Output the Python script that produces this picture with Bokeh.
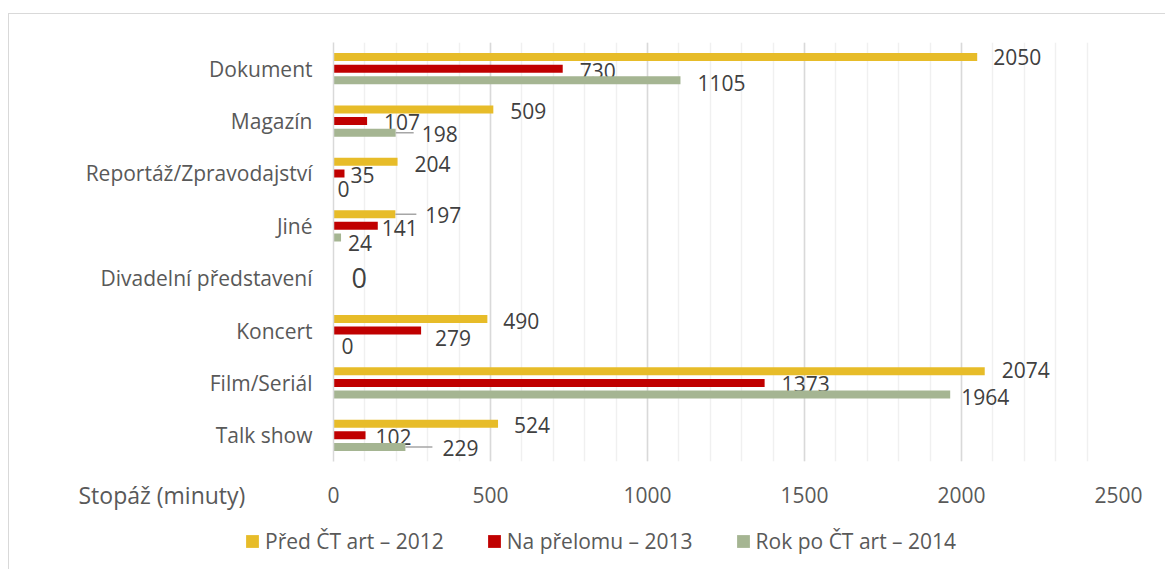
from bokeh.plotting import figure
from bokeh.layouts import column
from bokeh.models import (ColumnDataSource, FactorRange, Range1d, SingleIntervalTicker,
                          FixedTicker, Legend, LegendItem, Label)
from bokeh.transform import dodge
from bokeh.core.properties import value
from bokeh.embed import file_html
from bokeh.resources import INLINE

# ---------------- data ----------------
categories = ["Dokument", "Magazín", "Reportáž/Zpravodajství", "Jiné",
              "Divadelní představení", "Koncert", "Film/Seriál", "Talk show"]
series_names = ["Před ČT art – 2012", "Na přelomu – 2013", "Rok po ČT art – 2014"]
v2012 = [2050, 509, 204, 197, 0, 490, 2074, 524]
v2013 = [730, 107, 35, 141, 0, 279, 1373, 102]
v2014 = [1105, 198, 0, 24, 0, 0, 1964, 229]
# data-label texts ("" = no label shown)
lab2012 = ["2050", "509", "204", "197", "", "490", "2074", "524"]
lab2013 = ["730", "107", "35", "141", "0", "279", "1373", "102"]
lab2014 = ["1105", "198", "0", "24", "", "0", "1964", "229"]
x_ticks = [0, 500, 1000, 1500, 2000, 2500]
x_axis_title = "Stopáž (minuty)"

# ---------------- styling (label placement in pixels) ----------------
colors = ["#E7BC29", "#C00000", "#A5B592"]
dodges = [0.223, 0.0, -0.223]
dx = [[16, 17, 17, 30, 0, 16, 17, 16],
      [17, 17, 6, 4, 18, 14, 17, 10],
      [17, 26, 4, 7, 0, 8, 11, 37]]
dy = [[0, 2, 2, 1, 0, 2, -1, 1.5],
      [2, 1, 2, 2, 0, 7, 1, 1.5],
      [2.5, 1.5, 4, 6, 0, 4, 2, 1]]
fsz = [["21px"] * 8,
       ["21px", "21px", "21px", "21px", "27px", "21px", "21px", "21px"],
       ["21px"] * 8]
# leader lines: (series index, category index, length px)
leaders = [(0, 3, 21), (2, 1, 18), (2, 7, 27)]

FONT = "Open Sans"
W = 1156

p = figure(y_range=FactorRange(factors=categories[::-1], range_padding=0),
           x_range=Range1d(x_ticks[0], x_ticks[-1]),
           frame_width=785, frame_height=419,
           min_border_left=324, min_border_right=W - 324 - 785,
           min_border_top=28, min_border_bottom=55,
           output_backend="svg", toolbar_location=None)
p.outline_line_color = None
p.background_fill_color = "white"
p.border_fill_color = "white"

vals = [v2012, v2013, v2014]
labs = [lab2012, lab2013, lab2014]
for i in range(3):
    src = ColumnDataSource(dict(cat=categories, val=vals[i], lab=labs[i],
                                dx=dx[i], dy=dy[i], fs=fsz[i]))
    p.hbar(y=dodge("cat", dodges[i], range=p.y_range), right="val", left=0,
           height=0.153, fill_color=colors[i], line_color=None, source=src)
    p.text(x="val", y=dodge("cat", dodges[i], range=p.y_range), text="lab",
           x_offset="dx", y_offset="dy", text_font_size="fs",
           text_font=value(FONT), text_color="#404040",
           text_align="left", text_baseline="middle", source=src)

# leader lines
for i in range(3):
    sel = [l for l in leaders if l[0] == i]
    if not sel:
        continue
    src = ColumnDataSource(dict(x=[vals[i][c] for _, c, _ in sel],
                                cat=[categories[c] for _, c, _ in sel],
                                ln=[L for _, _, L in sel]))
    p.ray(x="x", y=dodge("cat", dodges[i], range=p.y_range), length="ln",
          length_units="screen", angle=0, line_color="#A6A6A6", line_width=1.5,
          source=src)

# grid
p.xaxis.ticker = FixedTicker(ticks=x_ticks)
p.xgrid.ticker = SingleIntervalTicker(interval=500, num_minor_ticks=5)
p.xgrid.grid_line_color = "#D9D9D9"
p.xgrid.grid_line_width = 1.5
p.xgrid.minor_grid_line_color = "#F0F0F0"
p.xgrid.minor_grid_line_width = 1.5
p.ygrid.grid_line_color = None

# axes
p.xaxis.axis_line_color = None
p.xaxis.major_tick_line_color = None
p.xaxis.minor_tick_line_color = None
p.xaxis.major_label_standoff = 19
p.xaxis.major_label_text_font = FONT
p.xaxis.major_label_text_font_size = "21px"
p.xaxis.major_label_text_color = "#595959"

p.yaxis.axis_line_color = "#D9D9D9"
p.yaxis.axis_line_width = 1.5
p.yaxis.major_tick_line_color = None
p.yaxis.minor_tick_line_color = None
p.yaxis.major_label_standoff = 15
p.yaxis.major_label_text_font = FONT
p.yaxis.major_label_text_font_size = "21px"
p.yaxis.major_label_text_color = "#595959"

# transparent strip laid over the bottom of the chart: axis title + legend
H2 = 95
p2 = figure(width=W, height=H2, x_range=(0, 1), y_range=(0, 1),
            min_border_left=0, min_border_right=0, min_border_top=0,
            min_border_bottom=0, x_axis_location=None, y_axis_location=None,
            output_backend="svg", toolbar_location=None,
            styles={"margin-top": "-42px"})
p2.outline_line_color = None
p2.grid.grid_line_color = None
p2.background_fill_alpha = 0
p2.border_fill_alpha = 0
for fig in (p, p2):
    if "frame_align" in fig.properties():
        fig.frame_align = False

p2.add_layout(Label(x=69, y=75, x_units="screen", y_units="screen",
                    text=x_axis_title, text_font=FONT, text_font_size="23px",
                    text_color="#595959", text_baseline="middle", text_align="left"))

items = []
for i in range(3):
    r = p2.hbar(y=[0], left=[0], right=[0], height=0, fill_color=colors[i],
                line_color=None)
    items.append(LegendItem(label=series_names[i], renderers=[r]))
legend = Legend(items=items, orientation="horizontal", location=(235, 14),
                glyph_width=16, glyph_height=16, label_standoff=5, spacing=42,
                padding=0, margin=0, border_line_color=None, background_fill_alpha=0,
                label_text_font=FONT, label_text_font_size="21px",
                label_text_color="#595959", label_height=20)
p2.add_layout(legend, "center")

lay = column(p, p2, spacing=0,
             styles={"border-left": "1px solid #D9D9D9", "border-top": "1px solid #D9D9D9",
                     "margin-top": "13px", "margin-left": "8px"})

open("out.html", "w").write(file_html(lay, INLINE))
